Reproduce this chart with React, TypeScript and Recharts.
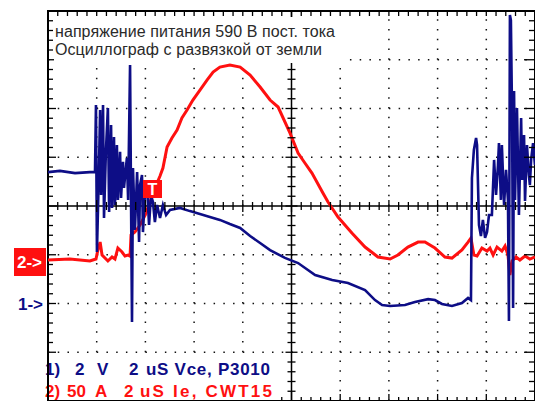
import React from 'react';
import { ComposedChart, Line, XAxis, YAxis, ReferenceLine, ReferenceArea, Scatter } from 'recharts';

// Channel 1: Vce (2 V/div), time in microseconds (2 us/div)
const vceTimeUs = [0,0.49,1.11,1.72,1.93,1.97,2.01,2.09,2.14,2.18,2.26,2.30,2.38,2.46,2.51,2.59,2.63,2.71,2.75,2.83,2.87,2.96,3.00,3.08,3.12,3.24,3.29,3.37,3.41,3.45,3.49,3.57,3.66,3.74,3.78,3.86,3.90,3.99,4.07,4.15,4.23,4.31,4.39,4.48,4.60,4.72,4.85,5.01,5.42,5.83,6.24,6.65,7.06,7.47,7.89,8.30,8.71,9.12,9.73,10.27,10.97,11.67,12.32,13.02,13.43,13.72,14.05,14.66,15.07,15.61,15.89,16.18,16.59,17.00,17.25,17.37,17.41,17.49,17.58,17.62,17.70,17.78,17.86,17.95,18.03,18.11,18.23,18.32,18.40,18.48,18.52,18.60,18.64,18.73,18.81,18.89,18.93,18.97,19.01,19.06,19.10,19.14,19.18,19.26,19.34,19.43,19.47,19.55,19.59,19.67,19.75,19.79,19.84,19.92,20.00];
const vceVolts = [5.39,5.44,5.35,5.39,5.39,8.14,2.11,5.39,7.94,4.45,8.14,3.51,6.30,8.02,3.75,7.32,3.92,6.83,4.04,6.50,4.25,6.22,4.33,5.81,4.74,5.97,4.25,9.78,4.25,-0.76,5.56,3.02,5.39,2.52,4.86,5.27,2.93,4.66,4.74,3.22,4.45,4.16,3.34,4.04,3.51,4.04,3.63,3.84,3.92,3.79,3.67,3.55,3.43,3.26,3.10,2.77,2.48,2.19,1.87,1.66,1.17,0.96,0.84,0.55,0.14,-0.06,-0.10,-0.06,0.06,0.18,0.14,-0.02,-0.10,0.02,0.23,0.14,5.15,6.30,6.79,6.50,3.22,2.77,3.43,2.69,2.93,3.63,3.63,5.89,4.45,5.68,6.58,4.25,6.50,4.04,5.48,4.25,-0.72,11.84,11.63,7.53,-0.18,8.72,4.25,8.02,3.63,7.61,5.07,6.91,4.21,6.50,5.27,4.86,5.89,6.58,5.68];

// Channel 2: Ie (50 A/div)
const ieTimeUs = [0,0.9,1.72,1.97,2.05,2.14,2.22,2.34,2.46,2.63,2.75,2.87,3.04,3.16,3.29,3.37,3.41,3.57,3.78,3.99,4.19,4.39,4.60,4.72,4.89,5.09,5.30,5.50,5.71,5.95,6.24,6.53,6.78,7.06,7.47,7.89,8.30,8.71,9.12,9.45,9.94,10.27,10.55,10.84,11.29,11.50,11.91,12.48,13.02,13.55,14.05,14.37,14.78,15.20,15.48,15.89,16.30,16.59,17.00,17.25,17.37,17.49,17.62,17.82,18.03,18.15,18.28,18.44,18.64,18.77,18.89,18.97,19.06,19.22,19.38,19.59,19.79,20.00];
const ieAmps = [-0.4,0.6,-1.4,0.6,9.9,18.0,4.7,1.6,-1.4,2.7,0.6,11.9,7.8,3.7,4.7,3.7,25.2,28.3,35.5,45.7,59.1,73.4,85.7,93.9,115.5,124.7,132.9,145.2,153.4,163.7,173.9,184.2,192.4,197.5,199.6,197.5,189.3,177.0,163.7,156.5,129.8,109.3,99.1,88.8,68.3,59.1,43.7,27.3,12.9,2.7,0.6,4.7,12.9,18.0,18.0,11.9,2.7,1.6,9.9,18.0,22.2,4.7,3.7,11.9,8.8,11.9,4.7,12.9,8.8,13.9,4.7,-15.8,-1.4,2.7,-0.4,3.7,0.6,2.7];

// Graticule (time in us, voltage scale of channel 1)
const timeDomain = [0, 20];
const voltDomain = [-4, 12];
const ampDomain = [-145, 255];
const gridTimesUs = [2, 4, 6, 8, 12, 14, 16, 18];
const gridVolts = [-2, 0, 2, 6, 8, 10];
const centerTimeUs = 10;
const centerVolts = 4;
const minorStepUs = 0.4;
const minorStepV = 0.4;

const titleLines = ['напряжение питания 590 В пост. тока', 'Осциллограф с развязкой от земли'];
const ch1Label = ['1)', '2', 'V', '2', 'uS Vce, P3010'];
const ch2Label = ['2)', '50', 'A', '2', 'uS Ie, CWT15'];

const BLUE = '#0d0d86';
const RED = '#ff1010';

const vceData = vceTimeUs.map((t, i) => ({ t, v: vceVolts[i] }));
const ieData = ieTimeUs.map((t, i) => ({ t, a: ieAmps[i] }));

const timeTicks = Array.from({ length: Math.round(20 / minorStepUs) + 1 }, (_, i) => +(i * minorStepUs).toFixed(2));
const voltTicks = Array.from({ length: Math.round(16 / minorStepV) + 1 }, (_, i) => +(-4 + i * minorStepV).toFixed(2));

const topTicks = timeTicks.map((t) => ({ t, v: voltDomain[1] }));
const bottomTicks = timeTicks.map((t) => ({ t, v: voltDomain[0] }));
const midHTicks = timeTicks.map((t) => ({ t, v: centerVolts }));
const leftTicks = voltTicks.map((v) => ({ t: timeDomain[0], v }));
const rightTicks = voltTicks.map((v) => ({ t: timeDomain[1], v }));
const midVTicks = voltTicks.map((v) => ({ t: centerTimeUs, v }));

const isMajorT = (t: number) => Math.abs(t / 2 - Math.round(t / 2)) < 1e-6;
const isMajorV = (v: number) => Math.abs(v / 2 - Math.round(v / 2)) < 1e-6;

const tickShape = (kind: string) => (props: any) => {
  const { cx, cy, payload } = props;
  let x1 = cx, y1 = cy, x2 = cx, y2 = cy;
  if (kind === 'top') {
    const len = payload.t === centerTimeUs ? 9 : 5;
    y2 = cy + len;
  } else if (kind === 'bottom') {
    const len = payload.t === centerTimeUs ? 9 : isMajorT(payload.t) ? 7 : 4;
    y2 = cy - len;
  } else if (kind === 'left') {
    const len = payload.v === centerVolts ? 9 : isMajorV(payload.v) ? 8 : 5;
    x2 = cx + len;
  } else if (kind === 'right') {
    const len = payload.v === centerVolts ? 11 : isMajorV(payload.v) ? 11 : 6;
    x2 = cx - len;
  } else if (kind === 'midH') {
    const len = isMajorT(payload.t) ? 6 : 4;
    y1 = cy - len; y2 = cy + len;
  } else {
    const len = isMajorV(payload.v) ? 6 : 4;
    x1 = cx - len; x2 = cx + len;
  }
  return <line x1={x1} y1={y1} x2={x2} y2={y2} stroke="#000" strokeWidth={1.3} />;
};

export default function App() {
  const font = '"Liberation Sans", Arial, sans-serif';
  return (
    <div style={{ position: 'absolute', left: 0, top: 0, width: 535, height: 401, background: '#fff' }}>
      <ComposedChart width={535} height={401} margin={{ top: 11, right: 0, bottom: 0, left: 48 }}>
        <XAxis xAxisId="x" type="number" dataKey="t" domain={timeDomain} hide allowDataOverflow />
        <YAxis yAxisId="v" type="number" domain={voltDomain} hide allowDataOverflow />
        <YAxis yAxisId="a" type="number" domain={ampDomain} hide allowDataOverflow />
        {gridTimesUs.map((t) => (
          <ReferenceLine key={'gx' + t} xAxisId="x" yAxisId="v" x={t} stroke="#111" strokeWidth={1.5} strokeDasharray="1.5 8.25" />
        ))}
        {gridVolts.map((v) => (
          <ReferenceLine key={'gy' + v} xAxisId="x" yAxisId="v" y={v} stroke="#111" strokeWidth={1.5} strokeDasharray="1.5 8.24" />
        ))}
        <ReferenceLine xAxisId="x" yAxisId="v" x={centerTimeUs} stroke="#000" strokeWidth={1.5} />
        <ReferenceLine xAxisId="x" yAxisId="v" y={centerVolts} stroke="#000" strokeWidth={1.5} />
        <ReferenceArea xAxisId="x" yAxisId="v" x1={timeDomain[0]} x2={timeDomain[1]} y1={voltDomain[0]} y2={voltDomain[1]} fill="none" fillOpacity={0} stroke="#000" strokeWidth={2} />
        <Scatter xAxisId="x" yAxisId="v" data={topTicks} dataKey="v" shape={tickShape('top')} isAnimationActive={false} />
        <Scatter xAxisId="x" yAxisId="v" data={bottomTicks} dataKey="v" shape={tickShape('bottom')} isAnimationActive={false} />
        <Scatter xAxisId="x" yAxisId="v" data={leftTicks} dataKey="v" shape={tickShape('left')} isAnimationActive={false} />
        <Scatter xAxisId="x" yAxisId="v" data={rightTicks} dataKey="v" shape={tickShape('right')} isAnimationActive={false} />
        <Scatter xAxisId="x" yAxisId="v" data={midHTicks} dataKey="v" shape={tickShape('midH')} isAnimationActive={false} />
        <Scatter xAxisId="x" yAxisId="v" data={midVTicks} dataKey="v" shape={tickShape('midV')} isAnimationActive={false} />
        <Line xAxisId="x" yAxisId="a" data={ieData} dataKey="a" type="linear" stroke={RED} strokeWidth={3} dot={false} isAnimationActive={false} />
        <Line xAxisId="x" yAxisId="v" data={vceData} dataKey="v" type="linear" stroke={BLUE} strokeWidth={2.6} dot={false} isAnimationActive={false} />
      </ComposedChart>
      <svg width={535} height={401} style={{ position: 'absolute', left: 0, top: 0, pointerEvents: 'none' }}>
        <rect x={54} y={17} width={293} height={46} fill="#fff" />
        <rect x={49} y={357} width={227} height={43} fill="#fff" />
        <text x={55} y={37} fontFamily={font} fontSize={16} fill="#2a2a2a" textLength={280} lengthAdjust="spacing">{titleLines[0]}</text>
        <text x={55} y={55} fontFamily={font} fontSize={16} fill="#2a2a2a" textLength={267} lengthAdjust="spacing">{titleLines[1]}</text>
        <rect x={143} y={180} width={19} height={18} fill={RED} />
        <text x={152.5} y={195} textAnchor="middle" fontFamily={font} fontSize={16} fontWeight="bold" fill="#fff">T</text>
        <rect x={14} y={248} width={32} height={28} fill={RED} />
        <text x={17} y={268} fontFamily={font} fontSize={17} fontWeight="bold" fill="#fff">2-&gt;</text>
        <text x={18} y={310} fontFamily={font} fontSize={17} fontWeight="bold" fill={BLUE}>1-&gt;</text>
        <g fontFamily={font} fontSize={17} fontWeight="bold">
          <text x={45} y={375} fill={BLUE}>{ch1Label[0]}</text>
          <text x={75} y={375} fill={BLUE}>{ch1Label[1]}</text>
          <text x={97} y={375} fill={BLUE}>{ch1Label[2]}</text>
          <text x={129} y={375} fill={BLUE}>{ch1Label[3]}</text>
          <text x={146} y={375} fill={BLUE} textLength={124} lengthAdjust="spacing">{ch1Label[4]}</text>
          <text x={45} y={397} fill={RED}>{ch2Label[0]}</text>
          <text x={67} y={397} fill={RED}>{ch2Label[1]}</text>
          <text x={95} y={397} fill={RED}>{ch2Label[2]}</text>
          <text x={124} y={397} fill={RED}>{ch2Label[3]}</text>
          <text x={140} y={397} fill={RED} textLength={132} lengthAdjust="spacing">{ch2Label[4]}</text>
        </g>
        <line x1={48} y1={357} x2={48} y2={401} stroke="#000" strokeWidth={2} />
      </svg>
    </div>
  );
}
